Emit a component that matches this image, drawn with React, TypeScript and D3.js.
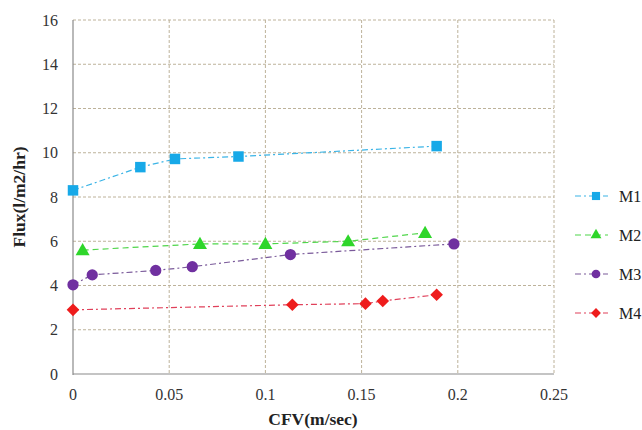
import React, { useEffect, useRef } from "react";
import * as d3 from "d3";

const seriesNames = ["M1", "M2", "M3", "M4"];
const m1X = [0, 0.035, 0.053, 0.086, 0.189];
const m1Y = [8.3, 9.35, 9.72, 9.83, 10.3];
const m2X = [0.005, 0.066, 0.1, 0.143, 0.183];
const m2Y = [5.6, 5.88, 5.88, 6.0, 6.38];
const m3X = [0, 0.01, 0.043, 0.062, 0.113, 0.198];
const m3Y = [4.03, 4.48, 4.68, 4.85, 5.4, 5.88];
const m4X = [0, 0.114, 0.152, 0.161, 0.189];
const m4Y = [2.9, 3.13, 3.18, 3.3, 3.58];
const xTicks = [0, 0.05, 0.1, 0.15, 0.2, 0.25];
const yTicks = [0, 2, 4, 6, 8, 10, 12, 14, 16];

const colors = ["#17a9e8", "#2ed62a", "#7030a0", "#ee1c1c"];
const lineColors = ["#3bb4e6", "#4fd64a", "#7a5a9a", "#e0405a"];

// square diamond (d3's symbolDiamond is too tall)
const squareDiamond = {
  draw(ctx, size) {
    const r = Math.sqrt(size / 2);
    ctx.moveTo(0, -r);
    ctx.lineTo(r, 0);
    ctx.lineTo(0, r);
    ctx.lineTo(-r, 0);
    ctx.closePath();
  },
};
const symbols = [d3.symbolSquare, d3.symbolTriangle, d3.symbolCircle, squareDiamond];
const symbolSizes = [110, 85, 100, 80];

const App = () => {
  const svgRef = useRef(null);

  useEffect(() => {
    const svg = d3.select(svgRef.current);
    svg.selectAll("*").remove();
    const width = 642;
    const height = 430;
    const left = 73, right = 554, top = 20, bottom = 374;

    const x = d3.scaleLinear().domain([0, 0.25]).range([left, right]);
    const y = d3.scaleLinear().domain([0, 16]).range([bottom, top]);

    svg.attr("width", width).attr("height", height);
    svg.append("rect").attr("width", width).attr("height", height).attr("fill", "#fff");

    const gridColor = "#bdb29a";
    // vertical grid
    svg.selectAll(".vgrid")
      .data(xTicks.filter((d) => d > 0))
      .enter()
      .append("line")
      .attr("x1", (d) => x(d)).attr("x2", (d) => x(d))
      .attr("y1", top).attr("y2", bottom)
      .attr("stroke", gridColor).attr("stroke-dasharray", "3,2").attr("stroke-width", 1);
    // horizontal grid
    svg.selectAll(".hgrid")
      .data(yTicks.filter((d) => d > 0))
      .enter()
      .append("line")
      .attr("x1", left).attr("x2", right)
      .attr("y1", (d) => y(d)).attr("y2", (d) => y(d))
      .attr("stroke", gridColor).attr("stroke-dasharray", "3,2").attr("stroke-width", 1);

    // axes
    svg.append("line").attr("x1", left).attr("x2", left).attr("y1", top).attr("y2", bottom + 1)
      .attr("stroke", "#8a8a8a").attr("stroke-width", 1.2);
    svg.append("line").attr("x1", left).attr("x2", right).attr("y1", bottom).attr("y2", bottom)
      .attr("stroke", "#8a8a8a").attr("stroke-width", 1.2);

    const font = "'Liberation Serif', 'Times New Roman', serif";
    svg.selectAll(".ylab")
      .data(yTicks)
      .enter()
      .append("text")
      .attr("x", 58)
      .attr("y", (d) => y(d) + 5.5)
      .attr("text-anchor", "end")
      .style("font-family", font)
      .style("font-size", "16px")
      .style("fill", "#333")
      .text((d) => d);
    svg.selectAll(".xlab")
      .data(xTicks)
      .enter()
      .append("text")
      .attr("x", (d) => x(d))
      .attr("y", 400)
      .attr("text-anchor", "middle")
      .style("font-family", font)
      .style("font-size", "16px")
      .style("fill", "#333")
      .text((d) => d);

    svg.append("text")
      .attr("transform", "translate(25,197) rotate(-90)")
      .attr("text-anchor", "middle")
      .style("font-family", font)
      .style("font-size", "17.5px")
      .style("font-weight", "bold")
      .style("fill", "#222")
      .text("Flux(l/m2/hr)");
    svg.append("text")
      .attr("x", 313)
      .attr("y", 425)
      .attr("text-anchor", "middle")
      .style("font-family", font)
      .style("font-size", "17.5px")
      .style("font-weight", "bold")
      .style("fill", "#222")
      .text("CFV(m/sec)");

    const xs = [m1X, m2X, m3X, m4X];
    const ys = [m1Y, m2Y, m3Y, m4Y];
    const dashes = ["6,3,2,3", "6,4", "6,3,2,3", "6,3,2,3"];
    const line = d3.line().x((d) => x(d[0])).y((d) => y(d[1]));

    seriesNames.forEach((name, i) => {
      const pts = xs[i].map((v, j) => [v, ys[i][j]]);
      svg.append("path")
        .attr("d", line(pts))
        .attr("fill", "none")
        .attr("stroke", lineColors[i])
        .attr("stroke-width", 1.2)
        .attr("stroke-dasharray", dashes[i]);
      svg.selectAll(".pt" + i)
        .data(pts)
        .enter()
        .append("path")
        .attr("d", d3.symbol().type(symbols[i]).size(symbolSizes[i]))
        .attr("transform", (d) => `translate(${x(d[0])},${y(d[1]) + (i === 1 ? 1 : 0)})`)
        .attr("fill", colors[i]);

      // legend
      const ly = [196, 235, 274, 313][i];
      svg.append("line")
        .attr("x1", 575).attr("x2", 608).attr("y1", ly).attr("y2", ly)
        .attr("stroke", lineColors[i]).attr("stroke-width", 1.2)
        .attr("stroke-dasharray", dashes[i]);
      svg.append("path")
        .attr("d", d3.symbol().type(symbols[i]).size(symbolSizes[i] * 0.6))
        .attr("transform", `translate(596,${ly})`)
        .attr("fill", colors[i]);
      svg.append("text")
        .attr("x", 619)
        .attr("y", ly + 5.5)
        .style("font-family", font)
        .style("font-size", "16px")
        .style("fill", "#222")
        .text(name);
    });
  }, []);

  return (
    <div style={{ position: "absolute", left: 0, top: 0 }}>
      <svg ref={svgRef} style={{ display: "block" }}></svg>
    </div>
  );
};

export default App;
